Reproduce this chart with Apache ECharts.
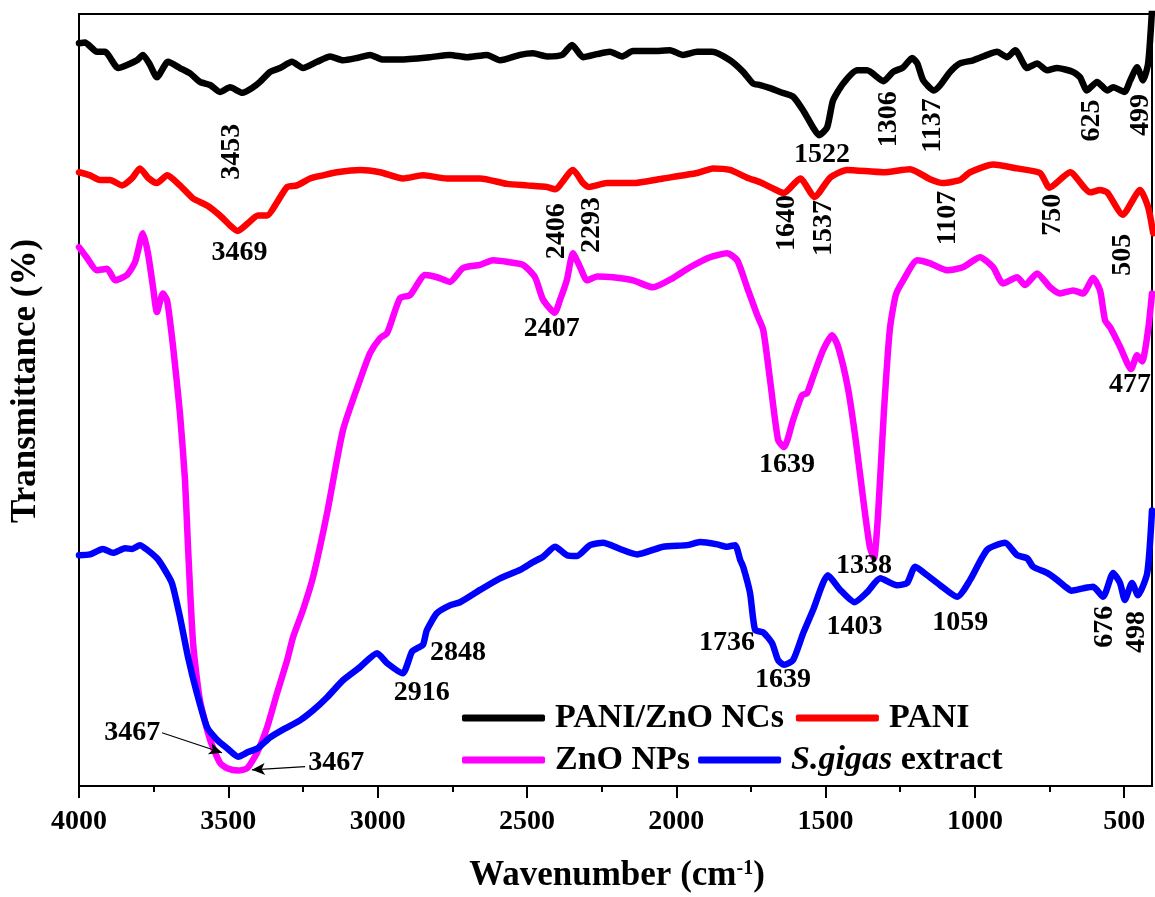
<!DOCTYPE html>
<html>
<head>
<meta charset="utf-8">
<script src="https://cdn.jsdelivr.net/npm/echarts@6/dist/echarts.min.js"></script>
<style>
  html, body { margin: 0; padding: 0; background: #fff; }
  #chart { width: 1155px; height: 897px; }
</style>
</head>
<body>
<div id="chart"></div>
<script>
// FTIR spectra: [wavenumber (cm^-1), transmittance (stacked, arbitrary offset)]
const paniZno = [[4000,96.2],[3980,96.3],[3940,95.1],[3913,95.1],[3869,93.0],[3839,93.4],[3806,94.0],[3786,94.7],[3762,93.4],[3739,91.8],[3702,93.8],[3662,93.0],[3628,92.3],[3595,91.2],[3561,90.8],[3528,89.9],[3494,90.5],[3453,89.8],[3417,90.5],[3394,91.2],[3360,92.5],[3327,93.0],[3287,93.8],[3250,93.0],[3203,93.8],[3159,94.5],[3116,94.0],[3069,94.3],[3025,94.7],[2982,94.1],[2925,94.1],[2825,94.4],[2758,94.7],[2701,94.4],[2634,94.7],[2590,94.0],[2523,94.7],[2480,94.9],[2433,94.5],[2382,94.7],[2349,96.0],[2312,94.4],[2265,94.8],[2222,95.1],[2181,94.5],[2145,95.2],[2078,95.2],[2021,95.3],[1977,94.7],[1930,95.1],[1880,95.1],[1820,94.0],[1776,92.5],[1743,91.0],[1719,90.8],[1686,90.4],[1652,89.9],[1609,89.3],[1575,87.5],[1542,85.3],[1522,84.3],[1495,85.3],[1475,88.8],[1441,91.0],[1394,92.7],[1361,92.7],[1306,91.3],[1274,92.5],[1240,93.1],[1210,94.3],[1193,93.6],[1173,91.4],[1137,90.1],[1116,90.8],[1083,92.5],[1050,93.6],[1006,94.0],[959,94.7],[926,95.1],[892,94.4],[865,95.3],[825,93.0],[792,93.6],[758,92.7],[725,93.0],[671,92.5],[648,91.8],[625,90.1],[591,91.2],[557,90.1],[537,90.5],[499,89.9],[480,91.4],[457,93.1],[437,91.4],[420,93.6],[407,100.5]];

const pani = [[4000,79.5],[3963,79.1],[3930,78.5],[3896,78.5],[3856,77.8],[3823,78.7],[3796,80.0],[3769,78.8],[3739,78.1],[3705,79.1],[3662,77.8],[3618,76.1],[3571,75.2],[3528,73.9],[3494,72.6],[3469,71.9],[3434,72.9],[3401,73.9],[3370,73.9],[3337,75.6],[3303,77.6],[3270,77.8],[3226,78.7],[3183,79.1],[3136,79.5],[3059,79.8],[2992,79.5],[2915,78.7],[2848,79.1],[2768,78.7],[2657,78.7],[2567,78.0],[2500,77.8],[2433,77.6],[2406,77.3],[2346,79.8],[2312,78.1],[2293,77.6],[2232,78.1],[2145,78.1],[2044,78.7],[1930,79.4],[1877,80.0],[1820,79.8],[1763,78.8],[1719,78.2],[1676,77.4],[1640,76.8],[1585,78.7],[1537,76.3],[1485,78.8],[1428,79.8],[1307,79.5],[1217,79.9],[1150,78.6],[1107,78.1],[1050,78.5],[1016,79.5],[939,80.5],[859,80.0],[782,79.4],[750,77.5],[681,79.5],[614,76.9],[581,77.2],[557,76.9],[505,74.0],[447,77.2],[420,75.0],[403,71.6]];

const znoNps = [[4000,69.8],[3973,68.4],[3940,66.8],[3906,67.0],[3879,65.5],[3839,66.2],[3812,67.9],[3786,71.6],[3769,69.0],[3752,64.6],[3739,61.4],[3719,63.8],[3705,62.9],[3685,56.9],[3662,48.3],[3645,39.6],[3635,31.0],[3618,18.5],[3595,11.1],[3561,6.0],[3528,3.0],[3504,2.3],[3467,2.0],[3437,2.3],[3404,4.3],[3370,7.6],[3337,12.0],[3303,16.3],[3283,19.3],[3250,22.8],[3216,27.1],[3169,35.4],[3116,46.1],[3059,52.6],[3025,56.1],[2992,58.0],[2968,58.7],[2925,63.2],[2891,63.6],[2841,66.2],[2801,65.9],[2758,65.3],[2714,67.1],[2657,67.5],[2614,68.1],[2567,67.9],[2513,67.5],[2473,65.9],[2446,63.0],[2407,61.3],[2389,63.0],[2366,65.6],[2346,69.0],[2322,67.2],[2299,65.5],[2265,66.0],[2212,65.9],[2145,65.5],[2078,64.6],[2011,65.8],[1954,67.2],[1887,68.5],[1830,69.0],[1796,68.1],[1763,64.6],[1729,61.0],[1709,59.1],[1686,52.6],[1659,44.8],[1639,43.9],[1609,47.4],[1579,50.6],[1562,50.9],[1542,53.0],[1508,56.5],[1478,58.4],[1458,56.9],[1425,51.5],[1398,44.5],[1372,36.5],[1352,31.0],[1338,29.5],[1324,35.4],[1305,48.3],[1285,59.1],[1265,63.6],[1240,65.5],[1193,68.1],[1150,67.7],[1093,66.8],[1040,67.2],[983,68.5],[939,67.2],[906,65.1],[859,65.9],[832,64.9],[792,66.4],[748,64.6],[715,63.8],[671,64.2],[638,63.8],[604,65.8],[581,64.2],[564,60.3],[547,59.4],[514,56.9],[477,54.0],[457,55.8],[440,55.0],[420,59.1],[407,63.8]];

const sGigas = [[4000,29.9],[3963,30.0],[3920,30.7],[3886,30.2],[3846,30.8],[3822,30.7],[3796,31.2],[3772,30.6],[3739,29.5],[3719,28.4],[3689,26.3],[3662,21.9],[3635,16.7],[3605,12.0],[3571,7.6],[3538,6.0],[3504,4.9],[3467,3.8],[3434,4.4],[3401,4.9],[3360,6.3],[3317,7.3],[3260,8.5],[3216,9.8],[3169,11.5],[3116,13.7],[3059,15.4],[3002,17.2],[2968,15.9],[2916,14.6],[2885,17.4],[2865,17.9],[2848,18.3],[2835,20.2],[2801,22.4],[2758,23.4],[2724,23.8],[2657,25.4],[2590,26.9],[2523,28.0],[2480,29.0],[2446,29.7],[2406,31.0],[2366,29.9],[2332,29.8],[2289,31.2],[2245,31.5],[2188,30.7],[2131,30.0],[2044,31.0],[1964,31.2],[1920,31.6],[1863,31.3],[1830,31.0],[1803,31.2],[1786,29.3],[1776,28.4],[1753,25.0],[1736,20.2],[1709,19.9],[1679,18.5],[1659,16.3],[1639,15.7],[1609,16.3],[1575,19.8],[1542,22.8],[1492,27.3],[1451,25.4],[1403,23.8],[1361,25.1],[1317,26.9],[1261,26.0],[1227,26.3],[1200,28.4],[1160,27.3],[1116,26.0],[1059,24.5],[1016,26.7],[959,30.6],[899,31.5],[859,29.9],[825,29.5],[805,28.4],[758,27.6],[725,26.7],[700,25.9],[676,25.3],[638,25.6],[604,25.8],[571,24.5],[537,27.6],[514,26.3],[498,24.1],[474,26.3],[454,24.7],[423,27.6],[407,35.7]];

// Annotated band positions (cm^-1) for each spectrum
const paniZnoPeaks = [3453, 1522, 1306, 1137, 625, 499];
const paniPeaks = [3469, 2406, 2293, 1640, 1537, 1107, 750, 505];
const znoPeaks = [2407, 1639, 1338, 477, 3467];
const sGigasPeaks = [3467, 2916, 2848, 1736, 1639, 1403, 1059, 676, 498];

// Axis ticks
const xTicks = [4000, 3500, 3000, 2500, 2000, 1500, 1000, 500];
const xMinorTicks = [3750, 3250, 2750, 2250, 1750, 1250, 750];

// Label placement: [dx, dy, rotation] in pixels relative to the band point
const placePaniZno = {3453:[-11,59,90], 1522:[3,20,0], 1306:[5,38,90], 1137:[-1,35,90], 625:[5,30,90], 499:[16,23,90]};
const placePani = {3469:[2,22,0], 2406:[2,42,90], 2293:[3,38,90], 1640:[3,30,90], 1537:[9,31,90], 1107:[5,35,90], 750:[3,27,90], 505:[0,40,90]};
const placeZno = {2407:[-3,16,0], 1639:[3,18,0], 1338:[-10,8,0], 477:[-1,16,0], 3467:[98,-8,0]};
const placeSGigas = {3467:[-106,-24,0], 2916:[19,19,0], 2848:[35,8,0], 1736:[-28,13,0], 1639:[-1,15,0], 1403:[0,25,0], 1059:[3,26,0], 676:[33,36,90], 498:[12,32,90]};

// Leader arrows from the 3467 labels to the O–H band minima
const znoArrow = [[3243, 2.5], [3421, 2.1]];
const sGigasArrow = [[3722, 6.9], [3521, 4.3]];

const FONT = '"Liberation Serif", "Times New Roman", serif';

function peakMarks(data, peaks, place) {
  return peaks.map(function (wn) {
    const pt = data.find(function (d) { return d[0] === wn; });
    const p = place[wn];
    return {
      coord: [pt[0], pt[1]],
      symbolOffset: [p[0], p[1]],
      label: { rotate: p[2], formatter: String(wn) }
    };
  });
}

function markPointCfg(data, peaks, place) {
  return {
    symbol: 'circle',
    symbolSize: 1,
    silent: true,
    itemStyle: { color: 'rgba(0,0,0,0)' },
    label: {
      show: true, position: 'inside', color: '#000',
      fontFamily: FONT, fontWeight: 'bold', fontSize: 28
    },
    data: peakMarks(data, peaks, place)
  };
}

function arrowCfg(a) {
  return {
    silent: true,
    symbol: ['none', 'arrow'],
    symbolSize: [9, 13],
    label: { show: false },
    lineStyle: { color: '#000', width: 1.2, type: 'solid' },
    emphasis: { disabled: true },
    data: [[{ coord: a[0] }, { coord: a[1] }]]
  };
}

function lineSeries(name, data, color, extra) {
  return Object.assign({
    name: name,
    type: 'line',
    data: data,
    showSymbol: false,
    symbol: 'none',
    smooth: 0.2,
    clip: true,
    lineStyle: { color: color, width: 6.5, cap: 'round', join: 'round' },
    itemStyle: { color: color },
    emphasis: { disabled: true }
  }, extra);
}

const chart = echarts.init(document.getElementById('chart'), null, { renderer: 'canvas' });

const legendText = {
  color: '#000', fontFamily: FONT, fontWeight: 'bold', fontSize: 34,
  padding: [0, 0, 0, 5],
  rich: { i: { fontStyle: 'italic', fontWeight: 'bold', fontFamily: FONT, fontSize: 34, color: '#000' } }
};
function legendFmt(name) { return name === 'S.gigas extract' ? '{i|S.gigas} extract' : name; }

chart.setOption({
  animation: false,
  backgroundColor: '#fff',
  grid: {
    left: 79, right: 3, top: 14, bottom: 111,
    show: true, borderColor: '#000', borderWidth: 2, backgroundColor: 'transparent'
  },
  legend: [
    {
      data: ['PANI/ZnO NCs', 'PANI'],
      left: 457, top: 696, orient: 'horizontal',
      icon: 'roundRect', itemWidth: 83, itemHeight: 7, itemGap: 12,
      textStyle: legendText, formatter: legendFmt, selectedMode: false
    },
    {
      data: ['ZnO NPs', 'S.gigas extract'],
      left: 457, top: 738, orient: 'horizontal',
      icon: 'roundRect', itemWidth: 83, itemHeight: 7, itemGap: 8,
      textStyle: legendText, formatter: legendFmt, selectedMode: false
    }
  ],
  xAxis: [
    {
      type: 'value', inverse: true, min: 407, max: 4000,
      axisLine: { show: true, lineStyle: { color: '#000', width: 2 } },
      axisTick: { show: true, inside: false, length: 12, customValues: xTicks, lineStyle: { color: '#000', width: 2 } },
      axisLabel: {
        show: true, customValues: xTicks, margin: 22,
        formatter: function (v) { return String(v); },
        color: '#000', fontFamily: FONT, fontWeight: 'bold', fontSize: 28
      },
      splitLine: { show: false }
    },
    {
      type: 'value', inverse: true, min: 407, max: 4000, position: 'bottom',
      axisLine: { show: false },
      axisTick: { show: true, inside: false, length: 6, customValues: xMinorTicks, lineStyle: { color: '#000', width: 2 } },
      axisLabel: { show: false },
      splitLine: { show: false }
    }
  ],
  yAxis: {
    type: 'value', min: 0, max: 100,
    axisLine: { show: true, lineStyle: { color: '#000', width: 2 } },
    axisTick: { show: false },
    axisLabel: { show: false },
    splitLine: { show: false }
  },
  graphic: [
    {
      type: 'text', x: 26, y: 381, rotation: Math.PI / 2, silent: true,
      style: {
        text: 'Transmittance (%)', fill: '#000',
        fontFamily: FONT, fontWeight: 'bold', fontSize: 35,
        align: 'center', verticalAlign: 'middle'
      }
    },
    {
      type: 'text', x: 617, y: 876, silent: true,
      style: {
        text: 'Wavenumber (cm{sup|-1})', fill: '#000',
        fontFamily: FONT, fontWeight: 'bold', fontSize: 35,
        align: 'center', verticalAlign: 'middle',
        rich: { sup: { fontFamily: FONT, fontWeight: 'bold', fontSize: 20, verticalAlign: 'top', fill: '#000' } }
      }
    }
  ],
  series: [
    lineSeries('PANI/ZnO NCs', paniZno, '#000000', { markPoint: markPointCfg(paniZno, paniZnoPeaks, placePaniZno) }),
    lineSeries('PANI', pani, '#ff0000', { markPoint: markPointCfg(pani, paniPeaks, placePani) }),
    lineSeries('ZnO NPs', znoNps, '#ff00ff', { markPoint: markPointCfg(znoNps, znoPeaks, placeZno), markLine: arrowCfg(znoArrow) }),
    lineSeries('S.gigas extract', sGigas, '#0000ff', { markPoint: markPointCfg(sGigas, sGigasPeaks, placeSGigas), markLine: arrowCfg(sGigasArrow) })
  ]
});
</script>
</body>
</html>
